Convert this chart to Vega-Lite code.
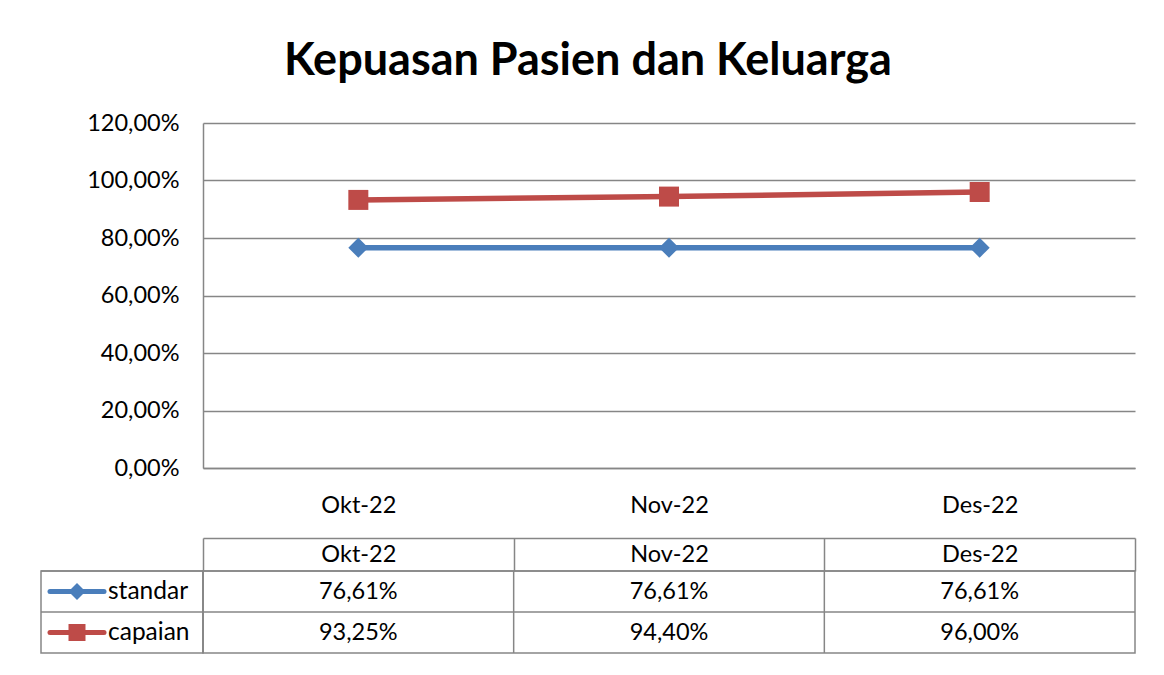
{
  "$schema": "https://vega.github.io/schema/vega-lite/v6.json",
  "background": "white",
  "padding": {"left": 39, "top": 39, "right": 20, "bottom": 10},
  "title": {"text": "Kepuasan Pasien dan Keluarga", "fontSize": 45, "fontWeight": "bold", "font": "Lato", "color": "black", "anchor": "middle", "offset": 27},
  "datasets": {
    "d": [
      {"bulan": "Okt-22", "seri": "standar", "nilai": 0.7661},
      {"bulan": "Nov-22", "seri": "standar", "nilai": 0.7661},
      {"bulan": "Des-22", "seri": "standar", "nilai": 0.7661},
      {"bulan": "Okt-22", "seri": "capaian", "nilai": 0.9325},
      {"bulan": "Nov-22", "seri": "capaian", "nilai": 0.944},
      {"bulan": "Des-22", "seri": "capaian", "nilai": 0.96}
    ]
  },
  "columns": 2,
  "spacing": {"row": 103, "column": 0},
  "bounds": "flush",
  "concat": [
    {
      "width": 162, "height": 345,
      "data": {"values": [{"a": 1}]},
      "mark": "text",
      "encoding": {"text": {"value": ""}}
    },
    {
      "width": 932, "height": 345,
      "data": {"name": "d"},
      "encoding": {
        "x": {"field": "bulan", "type": "ordinal", "sort": ["Okt-22", "Nov-22", "Des-22"],
              "scale": {"type": "point", "padding": 0.5},
              "axis": {"title": null, "labelAngle": 0, "ticks": false, "domainColor": "#868686", "domainWidth": 1.5, "labelPadding": 25, "labelFontSize": 23.5, "labelColor": "black", "grid": false}},
        "y": {"field": "nilai", "type": "quantitative", "scale": {"domain": [0, 1.2], "nice": false, "zero": true},
              "axis": {"title": null, "values": [0, 0.2, 0.4, 0.6, 0.8, 1.0, 1.2], "format": ".2%", "ticks": false, "labelPadding": 24, "domainColor": "#868686", "domainWidth": 1.5, "grid": true, "gridColor": "#868686", "gridWidth": 1.5, "labelFontSize": 23.5, "labelColor": "black"}},
        "color": {"field": "seri", "type": "nominal", "scale": {"domain": ["standar", "capaian"], "range": ["#4A7EBB", "#BE4B48"]}, "legend": null}
      },
      "layer": [
        {"mark": {"type": "line", "strokeWidth": 5.5}},
        {"mark": {"type": "point", "filled": true, "size": 400, "opacity": 1},
         "encoding": {"shape": {"field": "seri", "type": "nominal", "scale": {"domain": ["standar", "capaian"], "range": ["diamond", "square"]}, "legend": null}}}
      ]
    },
    {
      "width": 162, "height": 82,
      "view": {"stroke": "#868686", "strokeWidth": 1.5},
      "data": {"name": "d"},
      "transform": [{"filter": "datum.bulan == 'Okt-22'"}],
      "encoding": {
        "y": {"field": "seri", "type": "nominal", "sort": ["standar", "capaian"], "scale": {"type": "band", "paddingInner": 0, "paddingOuter": 0}, "axis": null}
      },
      "layer": [
        {"mark": {"type": "rule", "color": "#868686", "strokeWidth": 1.5},
         "encoding": {"y": {"field": "seri", "type": "nominal", "sort": ["standar", "capaian"], "bandPosition": 0, "scale": {"type": "band", "paddingInner": 0, "paddingOuter": 0}, "axis": null}}},
        {"mark": {"type": "point", "shape": "M-1,0L1,0", "size": 2916, "filled": false, "strokeWidth": 5, "strokeCap": "round", "xOffset": -45, "opacity": 1},
         "encoding": {"color": {"field": "seri", "type": "nominal", "scale": {"domain": ["standar", "capaian"], "range": ["#4A7EBB", "#BE4B48"]}, "legend": null}}},
        {"mark": {"type": "point", "filled": true, "size": 289, "xOffset": -45, "opacity": 1},
         "encoding": {"color": {"field": "seri", "type": "nominal", "scale": {"domain": ["standar", "capaian"], "range": ["#4A7EBB", "#BE4B48"]}, "legend": null},
                      "shape": {"field": "seri", "type": "nominal", "scale": {"domain": ["standar", "capaian"], "range": ["diamond", "square"]}, "legend": null}}},
        {"mark": {"type": "text", "align": "left", "dx": -14, "fontSize": 24.5, "color": "black"},
         "encoding": {"text": {"field": "seri", "type": "nominal"}}}
      ]
    },
    {
      "width": 932, "height": 82,
      "view": {"stroke": "#868686", "strokeWidth": 1.5},
      "data": {"name": "d"},
      "layer": [
        {"mark": {"type": "text", "fontSize": 23.5, "color": "black"},
         "encoding": {
           "x": {"field": "bulan", "type": "ordinal", "sort": ["Okt-22", "Nov-22", "Des-22"], "scale": {"type": "band", "paddingInner": 0, "paddingOuter": 0},
                 "axis": {"orient": "top", "title": null, "offset": 33, "tickSize": -33, "tickBand": "extent", "ticks": true, "tickColor": "#868686", "tickWidth": 1.5, "domainColor": "#868686", "domainWidth": 1.5, "labelPadding": 16.5, "labelBaseline": "middle", "labelAngle": 0, "labelFontSize": 23.5, "labelColor": "black", "grid": false}},
           "y": {"field": "seri", "type": "nominal", "sort": ["standar", "capaian"], "scale": {"type": "band", "paddingInner": 0, "paddingOuter": 0}, "axis": null},
           "text": {"field": "nilai", "type": "quantitative", "format": ".2%"}
         }},
        {"mark": {"type": "rule", "color": "#868686", "strokeWidth": 1.5},
         "transform": [{"filter": "datum.seri == 'standar'"}],
         "encoding": {
           "x": {"field": "bulan", "type": "ordinal", "sort": ["Okt-22", "Nov-22", "Des-22"], "bandPosition": 0, "scale": {"type": "band", "paddingInner": 0, "paddingOuter": 0},
                 "axis": {"orient": "top", "title": null, "offset": 33, "tickSize": -33, "tickBand": "extent", "ticks": true, "tickColor": "#868686", "tickWidth": 1.5, "domainColor": "#868686", "domainWidth": 1.5, "labelPadding": 16.5, "labelBaseline": "middle", "labelAngle": 0, "labelFontSize": 23.5, "labelColor": "black", "grid": false}}
         }},
        {"mark": {"type": "rule", "color": "#868686", "strokeWidth": 1.5},
         "transform": [{"filter": "datum.bulan == 'Okt-22'"}],
         "encoding": {
           "y": {"field": "seri", "type": "nominal", "sort": ["standar", "capaian"], "bandPosition": 0, "scale": {"type": "band", "paddingInner": 0, "paddingOuter": 0}, "axis": null}
         }}
      ]
    }
  ],
  "config": {
    "view": {"stroke": null},
    "font": "Lato",
    "locale": {"number": {"decimal": ",", "thousands": ".", "grouping": [3], "currency": ["", ""]}}
  }
}
